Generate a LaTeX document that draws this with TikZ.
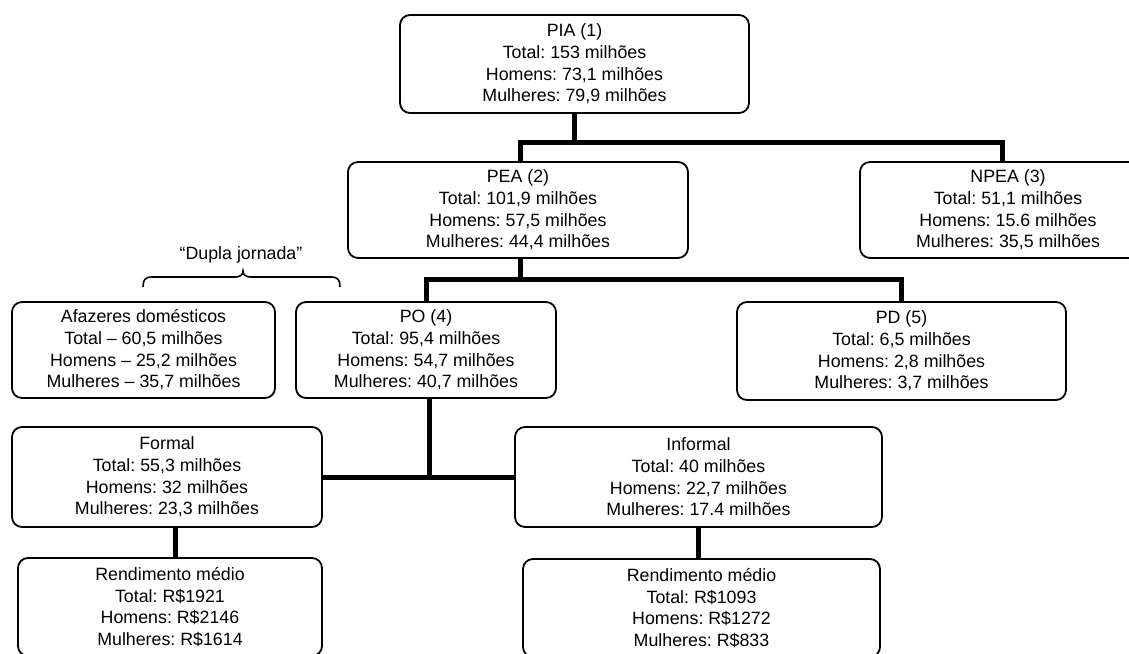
\documentclass[tikz,border=0pt]{standalone}
\usepackage{fontspec}
\setmainfont{Liberation Sans}
\frenchspacing
\begin{document}
\begin{tikzpicture}[x=1pt,y=-1pt,
  box/.style={draw, line width=1.8pt, rounded corners=10pt, align=center,
    font=\fontsize{17.8}{21.7}\selectfont, inner sep=0pt},
  conn/.style={line width=5pt},
  bracestyle/.style={line width=1.6pt},
  lbl/.style={font=\fontsize{17.8}{21.7}\selectfont, inner sep=0pt}]
\useasboundingbox (0,0) rectangle (1129,653);
\clip (0,0) rectangle (1129,653);

\node[box, minimum width=349pt, minimum height=98pt] (pia) at (574.5,64)
  {PIA (1)\\Total: 153 milhões\\Homens: 73,1 milhões\\Mulheres: 79,9 milhões};
\node[box, minimum width=340pt, minimum height=96pt] (pea) at (518,210)
  {PEA (2)\\Total: 101,9 milhões\\Homens: 57,5 milhões\\Mulheres: 44,4 milhões};
\node[box, minimum width=296pt, minimum height=96pt] (npea) at (1008,210)
  {NPEA (3)\\Total: 51,1 milhões\\Homens: 15.6 milhões\\Mulheres: 35,5 milhões};
\node[box, minimum width=263pt, minimum height=96pt] (afaz) at (143.5,350)
  {Afazeres domésticos\\Total – 60,5 milhões\\Homens – 25,2 milhões\\Mulheres – 35,7 milhões};
\node[box, minimum width=260pt, minimum height=96pt] (po) at (426,350)
  {PO (4)\\Total: 95,4 milhões\\Homens: 54,7 milhões\\Mulheres: 40,7 milhões};
\node[box, minimum width=329pt, minimum height=98pt] (pd) at (901.5,351)
  {PD (5)\\Total: 6,5 milhões\\Homens: 2,8 milhões\\Mulheres: 3,7 milhões};
\node[box, minimum width=310pt, minimum height=100pt] (formal) at (167,477)
  {Formal\\Total: 55,3 milhões\\Homens: 32 milhões\\Mulheres: 23,3 milhões};
\node[box, minimum width=367pt, minimum height=100pt] (informal) at (698.5,477)
  {Informal\\Total: 40 milhões\\Homens: 22,7 milhões\\Mulheres: 17.4 milhões};
\node[box, minimum width=304pt, minimum height=98pt] (rend1) at (170,607)
  {Rendimento médio\\Total: R\$1921\\Homens: R\$2146\\Mulheres: R\$1614};
\node[box, minimum width=357pt, minimum height=98pt] (rend2) at (701.5,608)
  {Rendimento médio\\Total: R\$1093\\Homens: R\$1272\\Mulheres: R\$833};

\node[lbl] (dupla) at (241,255) {“Dupla jornada”};

% connectors
\coordinate (j1) at (574.5,142);
\coordinate (j2) at (520,279);
\draw[conn] (pia.south) -- (j1);
\draw[conn] ([xshift=2pt]pea.north) |- (j1) -| ([xshift=-6pt]npea.north);
\draw[conn] ([xshift=2pt]pea.south) -- (j2);
\draw[conn] (po.north) |- (j2) -| (pd.north);
\draw[conn] (formal.east) -- (informal.west);
\draw[conn] ([xshift=3pt]po.south) -- ([xshift=3pt]po.south |- formal.east);
\draw[conn] ([xshift=8pt]formal.south) -- ([xshift=8pt]formal.south |- rend1.north);
\draw[conn] (informal.south) -- (informal.south |- rend2.north);

% brace
\draw[bracestyle] (143,287) .. controls (143,280) and (145,277) .. (152,277)
  -- (235,277) .. controls (240,277) and (243,275) .. (243,271)
  .. controls (243,275) and (246,277) .. (251,277)
  -- (331,277) .. controls (338,277) and (340,280) .. (340,287);
\end{tikzpicture}
\end{document}
